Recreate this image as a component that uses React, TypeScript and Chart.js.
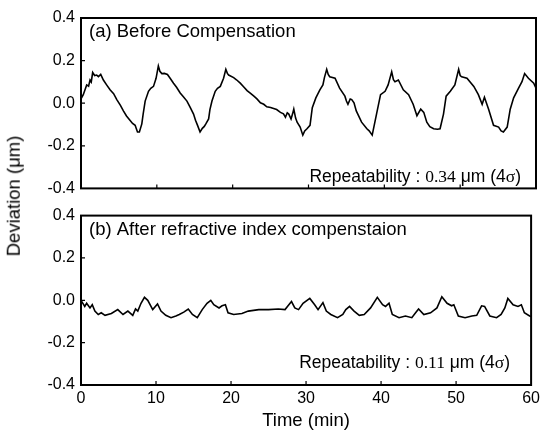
import React, { useEffect, useRef } from "react";
import { Chart, registerables } from "chart.js";

Chart.register(...registerables);

// ---------- data ----------
const topTime = [0, 0.3, 0.75, 1.0, 1.19, 1.35, 1.54, 1.8, 2.07, 2.3, 2.6, 2.95, 3.4, 3.83, 4.3, 4.72, 5.2, 5.59, 6.0, 6.48, 6.8, 7.14, 7.3, 7.45, 7.7, 8.02, 8.2, 8.46, 8.9, 9.2, 9.56, 9.9, 10.2, 10.4, 10.66, 11.0, 11.4, 11.8, 12.2, 12.6, 13.08, 13.5, 13.97, 14.4, 14.84, 15.1, 15.37, 15.7, 16.0, 16.26, 16.5, 16.83, 17.0, 17.27, 17.7, 18.0, 18.37, 18.8, 19.1, 19.3, 19.47, 20.13, 20.5, 21.0, 21.5, 21.9, 22.4, 22.8, 23.2, 23.66, 24.1, 24.5, 25.0, 25.4, 25.8, 26.3, 26.7, 26.96, 27.2, 27.4, 27.7, 27.9, 28.06, 28.3, 28.5, 28.9, 29.25, 29.5, 29.8, 30.2, 30.5, 30.97, 31.5, 31.9, 32.1, 32.4, 32.6, 32.8, 33.5, 34.1, 34.8, 35.0, 35.2, 35.5, 35.7, 36.0, 36.3, 37.0, 37.7, 38.0, 38.4, 38.97, 39.5, 40.1, 40.5, 40.97, 41.2, 41.4, 41.85, 42.5, 43.2, 43.8, 44.3, 44.8, 45.2, 45.6, 46.0, 46.5, 47.0, 47.35, 47.8, 48.15, 48.7, 49.3, 49.8, 50.0, 50.2, 50.9, 51.8, 52.4, 52.9, 53.2, 53.75, 54.4, 55.07, 55.4, 55.7, 56.2, 56.6, 57.05, 57.7, 58.15, 58.5, 59.0, 59.7, 60];
const topDev = [0.02, 0.04, 0.086, 0.08, 0.109, 0.1, 0.144, 0.13, 0.132, 0.125, 0.135, 0.109, 0.085, 0.063, 0.045, 0.017, -0.01, -0.036, -0.06, -0.081, -0.095, -0.104, -0.12, -0.135, -0.135, -0.097, -0.05, 0.01, 0.056, 0.07, 0.079, 0.117, 0.175, 0.15, 0.139, 0.14, 0.135, 0.115, 0.094, 0.075, 0.048, 0.03, 0.01, -0.02, -0.051, -0.08, -0.104, -0.135, -0.118, -0.109, -0.095, -0.074, -0.03, 0.01, 0.056, 0.07, 0.079, 0.117, 0.159, 0.14, 0.132, 0.12, 0.11, 0.094, 0.075, 0.059, 0.045, 0.033, 0.02, 0.002, -0.005, -0.017, -0.02, -0.025, -0.03, -0.043, -0.05, -0.066, -0.045, -0.051, -0.074, -0.05, -0.028, -0.07, -0.089, -0.112, -0.15, -0.13, -0.12, -0.104, -0.021, 0.025, 0.063, 0.086, 0.12, 0.159, 0.135, 0.124, 0.117, 0.071, 0.033, 0.01, -0.005, 0.02, 0.017, 0.002, -0.036, -0.089, -0.12, -0.13, -0.15, -0.051, 0.04, 0.056, 0.086, 0.147, 0.11, 0.101, 0.109, 0.063, 0.04, -0.005, -0.059, -0.028, -0.043, -0.089, -0.11, -0.12, -0.122, -0.12, -0.051, 0.033, 0.056, 0.086, 0.159, 0.13, 0.124, 0.117, 0.079, 0.04, -0.005, 0.028, -0.028, -0.104, -0.112, -0.13, -0.135, -0.112, -0.028, 0.025, 0.071, 0.101, 0.139, 0.117, 0.094, 0.071];

const botTime = [0, 0.5, 0.75, 1.2, 1.5, 1.85, 2.3, 2.7, 3.2, 4.05, 4.9, 5.6, 6.25, 6.9, 7.27, 7.57, 8.0, 8.46, 8.9, 9.56, 10.2, 10.66, 11.3, 12.0, 12.65, 13.1, 13.7, 14.3, 14.85, 15.5, 16.16, 16.8, 17.3, 17.7, 18.4, 18.8, 19.25, 19.6, 20.35, 21.45, 22.3, 23.7, 25.0, 26.3, 27.2, 27.6, 28.06, 28.5, 29.0, 29.6, 30.5, 31.15, 31.6, 32.25, 32.7, 33.3, 34.2, 34.9, 35.3, 35.8, 36.4, 37.1, 37.75, 38.6, 39.5, 40.2, 40.6, 41.06, 41.5, 42.4, 43.25, 44.1, 44.6, 45.0, 45.7, 46.6, 47.45, 48.1, 48.8, 49.4, 49.7, 50.3, 51.2, 52.1, 52.75, 53.4, 53.8, 54.5, 55.4, 56.0, 56.5, 56.9, 57.6, 58.25, 58.7, 59.1, 59.8, 60];
const botDev = [0.0, -0.029, -0.014, -0.036, -0.021, -0.051, -0.067, -0.059, -0.071, -0.062, -0.044, -0.067, -0.051, -0.071, -0.041, -0.051, -0.014, 0.014, 0.0, -0.044, -0.017, -0.051, -0.071, -0.082, -0.074, -0.067, -0.056, -0.041, -0.067, -0.082, -0.044, -0.014, 0.0, -0.021, -0.036, -0.026, -0.021, -0.059, -0.067, -0.062, -0.051, -0.044, -0.044, -0.041, -0.044, -0.026, -0.006, -0.036, -0.044, -0.014, 0.009, -0.021, -0.044, -0.011, -0.051, -0.067, -0.082, -0.067, -0.044, -0.029, -0.051, -0.071, -0.067, -0.036, 0.014, -0.021, -0.029, -0.014, -0.067, -0.082, -0.074, -0.082, -0.059, -0.041, -0.067, -0.059, -0.036, 0.017, -0.014, -0.026, -0.021, -0.074, -0.082, -0.074, -0.071, -0.026, -0.029, -0.074, -0.082, -0.067, -0.036, 0.009, -0.021, -0.029, -0.021, -0.059, -0.074, -0.076];

const xTicks = [0, 10, 20, 30, 40, 50, 60];
const yTicks = [-0.4, -0.2, 0.0, 0.2, 0.4];

const topTitle = "(a) Before Compensation";
const botTitle = "(b) After refractive index compenstaion";
const topRepeat = "0.34";
const botRepeat = "0.11";
const xTitle = "Time (min)";
const yTitle = "Deviation (\u03bcm)";

const SANS = "'Liberation Sans', Arial, Helvetica, sans-serif";
const SERIF = "'Liberation Serif', 'Times New Roman', serif";

function framePlugin(title: string, repeat: string, repDy: number, repDx: number) {
  return {
    id: "frame",
    afterDatasetsDraw(chart: any) {
      const { ctx, chartArea: a, scales } = chart;
      ctx.save();
      ctx.strokeStyle = "#000";
      ctx.lineWidth = 2;
      ctx.strokeRect(a.left, a.top, a.right - a.left, a.bottom - a.top);
      ctx.lineWidth = 1.2;
      ctx.beginPath();
      for (const t of xTicks) {
        if (t === 0 || t === 60) continue;
        const px = scales.x.getPixelForValue(t);
        ctx.moveTo(px, a.bottom);
        ctx.lineTo(px, a.bottom - 4);
      }
      for (const v of yTicks) {
        if (Math.abs(v) > 0.39) continue;
        const py = scales.y.getPixelForValue(v);
        ctx.moveTo(a.left, py);
        ctx.lineTo(a.left + 4, py);
      }
      ctx.stroke();

      ctx.fillStyle = "#000";
      ctx.textBaseline = "middle";
      ctx.textAlign = "left";
      ctx.font = `18.5px ${SANS}`;
      ctx.fillText(title, a.left + 8, a.top + 14);

      // Repeatability text, mixed fonts, right aligned
      const segs: [string, string][] = [
        ["Repeatability : ", `17.5px ${SANS}`],
        [repeat, `17.5px ${SERIF}`],
        [" \u03bcm (4", `17.5px ${SANS}`],
        ["\u03c3", `17.5px ${SERIF}`],
        [")", `17.5px ${SANS}`],
      ];
      let total = 0;
      for (const [s, f] of segs) {
        ctx.font = f;
        total += ctx.measureText(s).width;
      }
      let x = a.right - repDx - total;
      const y = a.bottom - repDy;
      for (const [s, f] of segs) {
        ctx.font = f;
        ctx.fillText(s, x, y);
        x += ctx.measureText(s).width;
      }
      ctx.restore();
    },
  };
}

function makeConfig(times: number[], devs: number[], showX: boolean, title: string, repeat: string, repDy: number, repDx: number, padding: any) {
  const points = times.map((t, i) => ({ x: t, y: devs[i] }));
  return {
    type: "line" as const,
    data: {
      datasets: [
        {
          data: points,
          borderColor: "#000",
          borderWidth: 1.6,
          pointRadius: 0,
          tension: 0,
          fill: false,
        },
      ],
    },
    options: {
      animation: false,
      responsive: false,
      maintainAspectRatio: false,
      layout: { padding },
      plugins: { legend: { display: false }, tooltip: { enabled: false } },
      scales: {
        x: {
          type: "linear",
          min: 0,
          max: 60,
          display: showX,
          afterBuildTicks: (s: any) => {
            s.ticks = xTicks.map((v) => ({ value: v }));
          },
          afterFit: (s: any) => {
            if (showX) s.height = 49;
          },
          grid: { display: false, drawTicks: false },
          border: { display: false },
          ticks: {
            color: "#000",
            font: { family: SANS, size: 16 },
            padding: 4,
            maxRotation: 0,
            autoSkip: false,
            callback: (v: any) => String(v),
          },
          title: {
            display: showX,
            text: xTitle,
            color: "#000",
            font: { family: SANS, size: 18.5 },
            padding: { top: 0, bottom: 2 },
          },
        },
        y: {
          min: -0.4,
          max: 0.4,
          afterBuildTicks: (s: any) => {
            s.ticks = yTicks.map((v) => ({ value: v }));
          },
          afterFit: (s: any) => {
            s.width = 81;
          },
          grid: { display: false, drawTicks: false },
          border: { display: false },
          ticks: {
            color: "#000",
            font: { family: SANS, size: 16 },
            padding: 6,
            autoSkip: false,
            callback: (v: any) => (Math.abs(v) < 1e-9 ? "0.0" : Number(v).toFixed(1)),
          },
        },
      },
    },
    plugins: [framePlugin(title, repeat, repDy, repDx)],
  };
}

export default function App() {
  const topRef = useRef<HTMLCanvasElement>(null);
  const botRef = useRef<HTMLCanvasElement>(null);

  useEffect(() => {
    const c1 = new Chart(
      topRef.current as HTMLCanvasElement,
      makeConfig(topTime, topDev, false, topTitle, topRepeat, 11, 15, { left: 0, right: 8, top: 18, bottom: 11 }) as any
    );
    const c2 = new Chart(
      botRef.current as HTMLCanvasElement,
      makeConfig(botTime, botDev, true, botTitle, botRepeat, 22, 21, { left: 0, right: 8, top: 9, bottom: 0 }) as any
    );
    return () => {
      c1.destroy();
      c2.destroy();
    };
  }, []);

  return (
    <div style={{ position: "fixed", left: 0, top: 0, width: 544, height: 434, background: "#fff" }}>
      <canvas ref={topRef} width={544} height={204} style={{ position: "absolute", left: 0, top: 0, width: 544, height: 204 }} />
      <canvas ref={botRef} width={544} height={234} style={{ position: "absolute", left: 0, top: 200, width: 544, height: 234 }} />
      <div
        style={{
          position: "absolute",
          left: 14,
          top: 196,
          transform: "translate(-50%, -50%) rotate(-90deg)",
          fontFamily: SANS,
          fontSize: 18.5,
          whiteSpace: "nowrap",
          color: "#000",
          lineHeight: 1,
        }}
      >
        {yTitle}
      </div>
    </div>
  );
}
